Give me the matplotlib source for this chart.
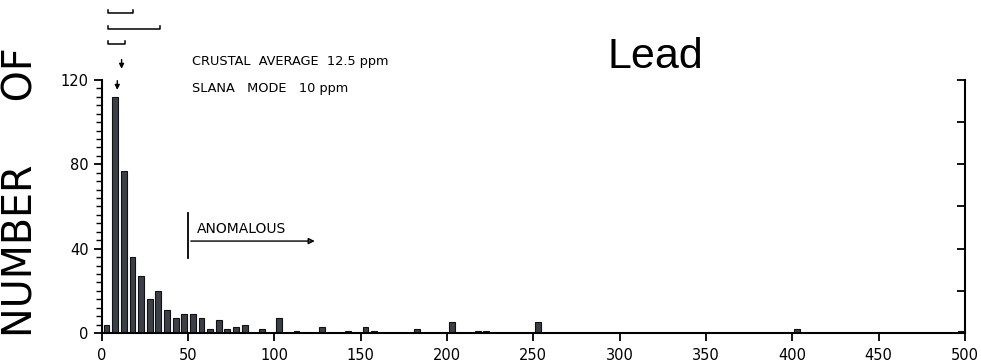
import matplotlib
matplotlib.use("Agg")
import matplotlib.pyplot as plt
import numpy as np

# Histogram of lead (ppm), bins of 5 ppm (left edge) and counts
bin_left = [0, 5, 10, 15, 20, 25, 30, 35, 40, 45, 50, 55, 60, 65, 70, 75, 80, 90,
            100, 110, 125, 140, 150, 155, 180, 200, 215, 220, 250, 400, 495]
counts = [4, 112, 77, 36, 27, 16, 20, 11, 7, 9, 9, 7, 2, 6, 2, 3, 4, 2,
          7, 1, 3, 1, 3, 1, 2, 5, 1, 1, 5, 2, 1]
bin_width = 5
x_ticks = [0, 50, 100, 150, 200, 250, 300, 350, 400, 450, 500]
y_ticks = [0, 40, 80, 120]
crustal_avg = 12.5
slana_mode = 10
anomalous_start = 50

fig = plt.figure(figsize=(9.81, 3.64), dpi=100)
ax = fig.add_axes([0.1037, 0.0852, 0.88, 0.695])

bar_color = "#3b4048"
centers = np.array(bin_left) + bin_width / 2 + 0.3
ax.bar(centers, counts, width=3.4, color=bar_color, edgecolor="#111111", linewidth=0.8)

ax.set_xlim(0, 500)
ax.set_ylim(0, 120)
ax.spines["top"].set_visible(False)
ax.spines["right"].set_visible(False)
for s in ["left", "bottom"]:
    ax.spines[s].set_linewidth(1.5)
ax.set_xticks(x_ticks)
ax.set_yticks(y_ticks)
ax.set_yticks(np.arange(0, 121, 4), minor=True)
ax.tick_params(axis="both", which="major", direction="out", length=6, width=1.3,
               labelsize=10.5)
ax.tick_params(axis="x", which="major", pad=5)
ax.tick_params(axis="y", which="minor", direction="out", length=4, width=1.0)

ax2 = ax.twinx()
ax2.set_ylim(0, 120)
ax2.set_yticks(np.arange(0, 121, 20))
ax2.tick_params(axis="y", direction="in", length=6, width=1.3, labelright=False)
for s in ["top", "left", "bottom"]:
    ax2.spines[s].set_visible(False)
ax2.spines["right"].set_linewidth(1.5)

# Titles and labels
fig.text(0.668, 0.843, "Lead", fontsize=31, family="Liberation Sans", ha="center", va="center")
fig.text(0.022, 0.075, "NUMBER     OF", fontsize=28.5, rotation=90, ha="center", va="bottom",
         family="DejaVu Sans")

fig.text(0.196, 0.830, f"CRUSTAL  AVERAGE  {crustal_avg} ppm", fontsize=9.3,
         ha="left", va="center")
fig.text(0.196, 0.758, f"SLANA   MODE   {slana_mode} ppm", fontsize=9.3,
         ha="left", va="center")

# Arrows for crustal average and mode
ax.annotate("", xy=(crustal_avg - 1, 124), xytext=(crustal_avg - 1, 131),
            arrowprops=dict(arrowstyle="-|>", color="black", lw=1.0, mutation_scale=7),
            annotation_clip=False)
ax.annotate("", xy=(slana_mode - 1, 114), xytext=(slana_mode - 1, 121),
            arrowprops=dict(arrowstyle="-|>", color="black", lw=1.0, mutation_scale=7),
            annotation_clip=False)

# Range brackets above the plot
for (x0, x1, yy) in [(3.6, 18.1, 152), (3.6, 33.8, 144), (3.6, 13.5, 137)]:
    ax.plot([x0, x0, x1, x1], [yy + 1.4, yy, yy, yy + 1.4], color="black", lw=1.1,
            clip_on=False)

# Anomalous marker
ax.plot([anomalous_start, anomalous_start], [35.6, 57], color="black", lw=1.3)
ax.annotate("", xy=(125, 43.6), xytext=(anomalous_start, 43.6),
            arrowprops=dict(arrowstyle="-|>", color="black", lw=1.0, mutation_scale=9,
                            fill=False))
ax.text(anomalous_start + 5, 49.5, "ANOMALOUS", fontsize=10, ha="left", va="center")

fig.savefig("out.png", dpi=100)
